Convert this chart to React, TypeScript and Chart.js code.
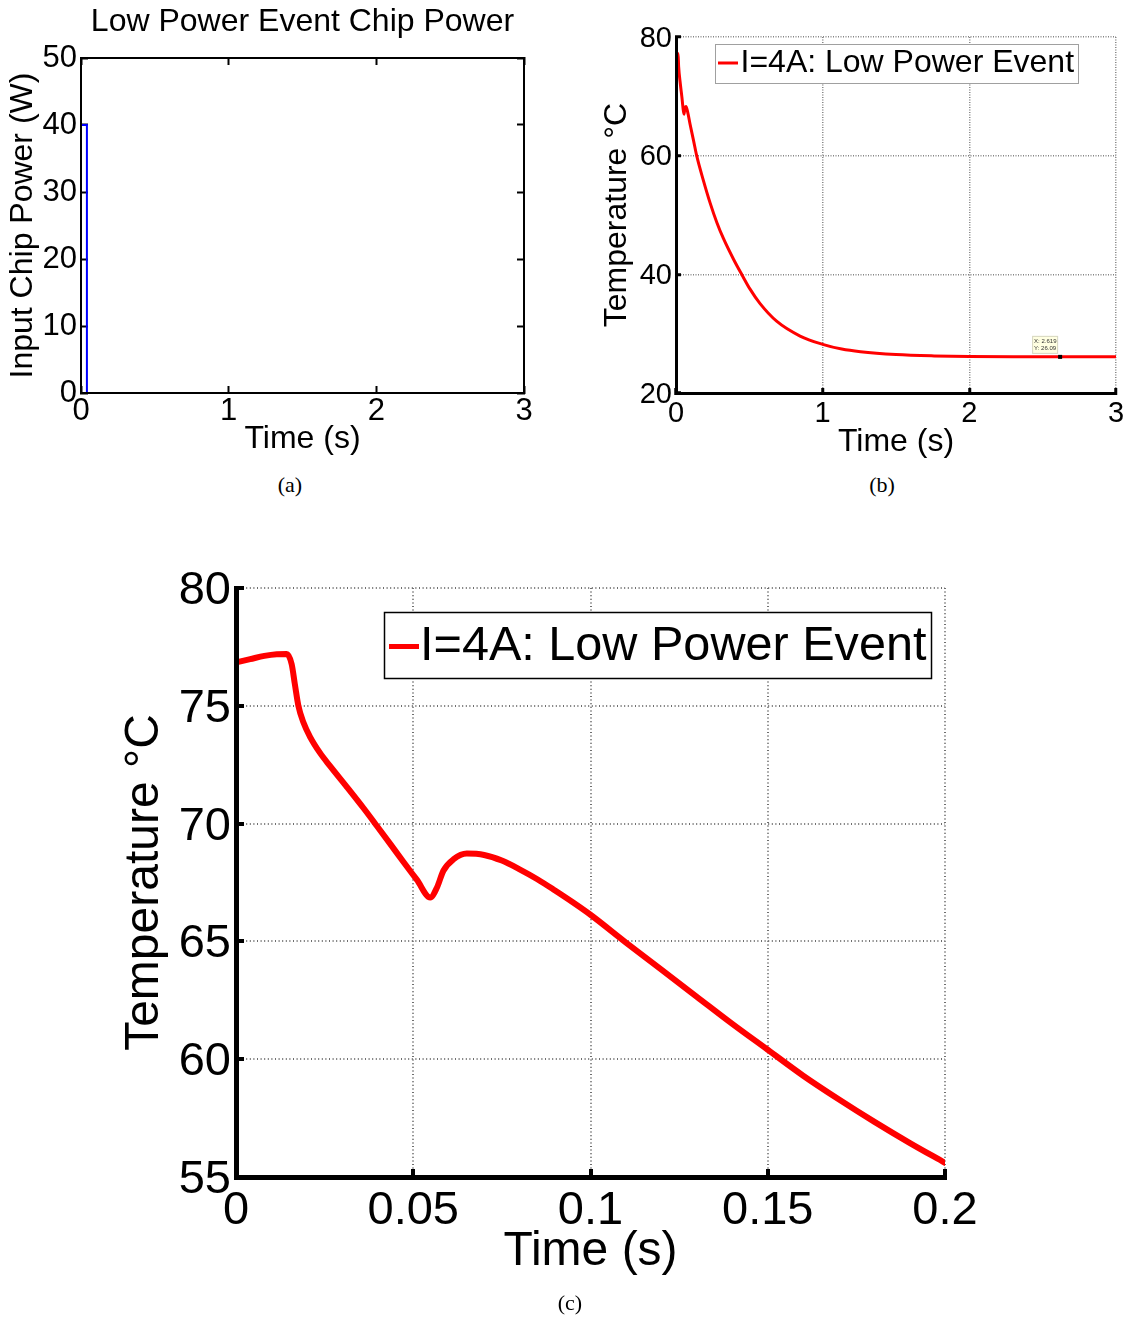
import React, { useEffect, useRef } from "react";
import { Chart, registerables } from "chart.js";

Chart.register(...registerables);

const FONT = '"Liberation Sans", Arial, Helvetica, sans-serif';
Chart.defaults.font.family = FONT;
Chart.defaults.color = "#000";

// ---------- (a) Low Power Event Chip Power ----------
const powerTime = [0, 0, 0.04, 0.04];
const powerWatts = [0, 40, 40, 0];
const aXTicks = [0, 1, 2, 3];
const aYTicks = [0, 10, 20, 30, 40, 50];

// ---------- (b) Temperature over 3 s ----------
const seriesLabel = "I=4A: Low Power Event";
const bTime = [
  0, 0.014, 0.018, 0.03, 0.04, 0.05, 0.055, 0.06, 0.068, 0.08, 0.096, 0.12,
  0.141, 0.187, 0.233, 0.279, 0.324, 0.393, 0.45, 0.505, 0.572, 0.686, 0.846,
  1.0, 1.13, 1.258, 1.5, 1.76, 2.0, 2.3, 2.619, 3.0,
];
const bTemp = [
  76.9, 77.2, 75.0, 72.0, 69.9, 67.6, 67.0, 68.0, 68.3, 67.3, 65.3, 62.5, 60.0,
  55.8, 52.0, 48.7, 46.0, 42.5, 39.9, 37.5, 35.1, 32.1, 29.6, 28.2, 27.4,
  26.95, 26.48, 26.25, 26.15, 26.1, 26.09, 26.09,
];
const bXTicks = [0, 1, 2, 3];
const bYTicks = [20, 40, 60, 80];
const dataTipX = 2.619;
const dataTipY = 26.09;

// ---------- (c) Temperature over first 0.2 s ----------
const cTime = [
  0, 0.004, 0.008, 0.0115, 0.0143, 0.0157, 0.0166, 0.0176, 0.019, 0.021,
  0.0237, 0.0265, 0.0313, 0.036, 0.0397, 0.0435, 0.0472, 0.051, 0.0548,
  0.0567, 0.0585, 0.0614, 0.0651, 0.07, 0.075, 0.08, 0.085, 0.09, 0.095, 0.1,
  0.11, 0.12, 0.13, 0.14, 0.15, 0.16, 0.17, 0.18, 0.19, 0.2,
];
const cTemp = [
  76.84, 76.98, 77.12, 77.19, 77.2, 76.77, 75.92, 75.0, 74.3, 73.65, 73.0,
  72.45, 71.55, 70.65, 69.91, 69.14, 68.38, 67.62, 66.86, 67.29, 68.0, 68.49,
  68.73, 68.67, 68.43, 68.06, 67.64, 67.16, 66.66, 66.13, 64.95, 63.8, 62.65,
  61.5, 60.4, 59.3, 58.3, 57.35, 56.45, 55.6,
];
const cXTicks = [0, 0.05, 0.1, 0.15, 0.2];
const cXTickLabels = ["0", "0.05", "0.1", "0.15", "0.2"];
const cYTicks = [55, 60, 65, 70, 75, 80];

const toPoints = (xs: number[], ys: number[]) =>
  xs.map((x, i) => ({ x, y: ys[i] }));

const setTicks = (vals: number[]) => (scale: any) => {
  scale.ticks = vals.map((v) => ({ value: v }));
};

// Legend drawn as a boxed legend inside the plot area (MATLAB style)
const boxLegendPlugin = {
  id: "boxLegend",
  afterDatasetsDraw(chart: any, _args: any, opts: any) {
    if (!opts || !opts.display) return;
    const ds = chart.data.datasets[0];
    const { ctx, chartArea } = chart;
    const x = chartArea.left + opts.dx;
    const y = chartArea.top + opts.dy;
    ctx.save();
    ctx.fillStyle = "#ffffff";
    ctx.fillRect(x, y, opts.w, opts.h);
    ctx.strokeStyle = opts.borderColor;
    ctx.lineWidth = opts.borderWidth;
    ctx.strokeRect(x + 0.5, y + 0.5, opts.w, opts.h);
    ctx.strokeStyle = ds.borderColor;
    ctx.lineWidth = opts.sampleWidth;
    ctx.beginPath();
    ctx.moveTo(x + opts.s0, y + opts.textY);
    ctx.lineTo(x + opts.s1, y + opts.textY);
    ctx.stroke();
    ctx.fillStyle = "#000";
    ctx.font = `${opts.fontSize}px ${FONT}`;
    ctx.textBaseline = "middle";
    ctx.textAlign = "left";
    ctx.fillText(ds.label, x + opts.textX, y + opts.textY);
    ctx.restore();
  },
};

// Small MATLAB data tip
const dataTipPlugin = {
  id: "dataTip",
  afterDraw(chart: any, _args: any, opts: any) {
    if (!opts || !opts.display) return;
    const { ctx } = chart;
    const px = chart.scales.x.getPixelForValue(opts.x);
    const py = chart.scales.y.getPixelForValue(opts.y);
    ctx.save();
    const bx = px - 28;
    const by = py - 21;
    ctx.fillStyle = "#ffffe1";
    ctx.fillRect(bx, by, 25, 17);
    ctx.strokeStyle = "#d6d6c0";
    ctx.lineWidth = 1;
    ctx.strokeRect(bx + 0.5, by + 0.5, 25, 17);
    ctx.fillStyle = "#333";
    ctx.font = `6px ${FONT}`;
    ctx.textBaseline = "middle";
    ctx.textAlign = "left";
    ctx.fillText("X: " + opts.x, bx + 2, by + 5);
    ctx.fillText("Y: " + opts.y, bx + 2, by + 12);
    ctx.fillStyle = "#000";
    ctx.fillRect(px - 2, py - 2, 4, 4);
    ctx.restore();
  },
};

const frameAxisA = (position: string, min: number, max: number, vals: number[]) => ({
  type: "linear",
  position,
  min,
  max,
  afterBuildTicks: setTicks(vals),
  afterFit: (s: any) => {
    if (position === "top") s.height = 0;
    else s.width = 0;
  },
  ticks: { display: false },
  grid: {
    drawOnChartArea: false,
    color: "#000",
    tickColor: "#000",
    tickWidth: 2,
    tickLength: -7,
  },
  border: { display: true, color: "#000", width: 2, z: 1 },
});

const configA: any = {
  type: "line",
  data: {
    datasets: [
      {
        label: "Input Chip Power",
        data: toPoints(powerTime, powerWatts),
        borderColor: "#0000ff",
        borderWidth: 2,
        pointRadius: 0,
        tension: 0,
        fill: false,
      },
    ],
  },
  options: {
    animation: false,
    responsive: false,
    events: [],
    layout: { padding: { left: 0, top: 0, right: 36, bottom: 0 } },
    plugins: {
      legend: { display: false },
      tooltip: { enabled: false },
      title: {
        display: true,
        text: "Low Power Event Chip Power",
        fullSize: false,
        color: "#000",
        font: { family: FONT, size: 32, weight: "normal" },
        padding: { top: 3, bottom: 16.6 },
      },
    },
    scales: {
      x: {
        type: "linear",
        position: "bottom",
        min: 0,
        max: 3,
        afterBuildTicks: setTicks(aXTicks),
        afterFit: (s: any) => {
          s.height = 77;
        },
        ticks: {
          font: { size: 31 },
          color: "#000",
          padding: 6.7,
          maxRotation: 0,
          autoSkip: false,
          callback: (v: any) => String(v),
        },
        grid: {
          drawOnChartArea: false,
          color: "#000",
          tickColor: "#000",
          tickWidth: 2,
          tickLength: -7,
        },
        border: { display: true, color: "#000", width: 2, z: 1 },
        title: {
          display: true,
          text: "Time (s)",
          color: "#000",
          font: { size: 32 },
          padding: { top: 0, bottom: 11.8 },
        },
      },
      x2: frameAxisA("top", 0, 3, aXTicks),
      y: {
        type: "linear",
        position: "left",
        min: 0,
        max: 50,
        afterBuildTicks: setTicks(aYTicks),
        afterFit: (s: any) => {
          s.width = 81;
        },
        ticks: {
          font: { size: 31 },
          color: "#000",
          padding: 11,
          callback: (v: any) => String(v),
        },
        grid: {
          drawOnChartArea: false,
          color: "#000",
          tickColor: "#000",
          tickWidth: 2,
          tickLength: -7,
        },
        border: { display: true, color: "#000", width: 2, z: 1 },
        title: {
          display: true,
          text: "Input Chip Power (W)",
          color: "#000",
          font: { size: 32 },
          padding: { top: 3.8, bottom: 0 },
        },
      },
      y2: frameAxisA("right", 0, 50, aYTicks),
    },
  },
};

const configB: any = {
  type: "line",
  data: {
    datasets: [
      {
        label: seriesLabel,
        data: toPoints(bTime, bTemp),
        borderColor: "#ff0000",
        borderWidth: 3,
        pointRadius: 0,
        cubicInterpolationMode: "monotone",
        fill: false,
      },
    ],
  },
  options: {
    animation: false,
    responsive: false,
    events: [],
    layout: { padding: { left: 0, top: 37, right: 20, bottom: 0 } },
    plugins: {
      legend: { display: false },
      tooltip: { enabled: false },
      boxLegend: {
        display: true,
        dx: 39,
        dy: 7,
        w: 363,
        h: 39,
        borderColor: "#a0a0a0",
        borderWidth: 1,
        s0: 3,
        s1: 23,
        sampleWidth: 3,
        textX: 25.5,
        textY: 19,
        fontSize: 32,
      },
      dataTip: { display: true, x: dataTipX, y: dataTipY },
    },
    scales: {
      x: {
        type: "linear",
        position: "bottom",
        min: 0,
        max: 3,
        afterBuildTicks: setTicks(bXTicks),
        afterFit: (s: any) => {
          s.height = 77;
        },
        ticks: {
          font: { size: 29 },
          color: "#000",
          padding: 8.5,
          maxRotation: 0,
          autoSkip: false,
          callback: (v: any) => String(v),
        },
        grid: {
          color: "#858585",
          lineWidth: 1.5,
          tickColor: "#000",
          tickWidth: 3,
          tickLength: -5,
        },
        border: { display: true, color: "#000", width: 3, dash: [1, 1.5], z: 1 },
        title: {
          display: true,
          text: "Time (s)",
          color: "#000",
          font: { size: 32 },
          padding: { top: 0, bottom: 9 },
        },
      },
      y: {
        type: "linear",
        position: "left",
        min: 20,
        max: 80,
        afterBuildTicks: setTicks(bYTicks),
        afterFit: (s: any) => {
          s.width = 116;
        },
        ticks: {
          font: { size: 29 },
          color: "#000",
          padding: 9,
          labelOffset: 1.5,
          callback: (v: any) => String(v),
        },
        grid: {
          color: "#858585",
          lineWidth: 1.5,
          tickColor: "#000",
          tickWidth: 3,
          tickLength: -5,
        },
        border: { display: true, color: "#000", width: 3, dash: [1, 1.5], z: 1 },
        title: {
          display: true,
          text: "Temperature °C",
          color: "#000",
          font: { size: 32 },
          padding: { top: 38, bottom: 0 },
        },
      },
    },
  },
  plugins: [boxLegendPlugin, dataTipPlugin],
};

const configC: any = {
  type: "line",
  data: {
    datasets: [
      {
        label: seriesLabel,
        data: toPoints(cTime, cTemp),
        borderColor: "#ff0000",
        borderWidth: 6,
        pointRadius: 0,
        cubicInterpolationMode: "monotone",
        borderJoinStyle: "round",
        borderCapStyle: "round",
        fill: false,
      },
    ],
  },
  options: {
    animation: false,
    responsive: false,
    events: [],
    layout: { padding: { left: 0, top: 48, right: 191, bottom: 0 } },
    plugins: {
      legend: { display: false },
      tooltip: { enabled: false },
      boxLegend: {
        display: true,
        dx: 148,
        dy: 24,
        w: 547,
        h: 66,
        borderColor: "#000",
        borderWidth: 1.5,
        s0: 5,
        s1: 35,
        sampleWidth: 5,
        textX: 36,
        textY: 34.5,
        fontSize: 48.6,
      },
    },
    scales: {
      x: {
        type: "linear",
        position: "bottom",
        min: 0,
        max: 0.2,
        afterBuildTicks: setTicks(cXTicks),
        afterFit: (s: any) => {
          s.height = 123;
        },
        ticks: {
          font: { size: 47 },
          color: "#000",
          padding: 14,
          maxRotation: 0,
          autoSkip: false,
          callback: (_v: any, i: number) => cXTickLabels[i],
        },
        grid: {
          color: "#6e6e6e",
          lineWidth: 2,
          tickColor: "#000",
          tickWidth: 4,
          tickLength: -8,
        },
        border: { display: true, color: "#000", width: 5, dash: [1, 2.6], z: 1 },
        title: {
          display: true,
          text: "Time (s)",
          color: "#000",
          font: { size: 48 },
          padding: { top: 0, bottom: 19 },
        },
      },
      y: {
        type: "linear",
        position: "left",
        min: 55,
        max: 80,
        afterBuildTicks: setTicks(cYTicks),
        afterFit: (s: any) => {
          s.width = 236;
        },
        ticks: {
          font: { size: 47 },
          color: "#000",
          padding: 13,
          labelOffset: 3,
          callback: (v: any) => String(v),
        },
        grid: {
          color: "#6e6e6e",
          lineWidth: 2,
          tickColor: "#000",
          tickWidth: 4,
          tickLength: -8,
        },
        border: { display: true, color: "#000", width: 5, dash: [1, 2.6], z: 1 },
        title: {
          display: true,
          text: "Temperature °C",
          color: "#000",
          font: { size: 48 },
          padding: { top: 116, bottom: 0 },
        },
      },
    },
  },
  plugins: [boxLegendPlugin],
};

function ChartCanvas(props: {
  config: any;
  left: number;
  top: number;
  width: number;
  height: number;
}) {
  const ref = useRef<HTMLCanvasElement>(null);
  useEffect(() => {
    if (!ref.current) return;
    const chart = new Chart(ref.current, props.config);
    return () => chart.destroy();
  }, []);
  return (
    <canvas
      ref={ref}
      width={props.width}
      height={props.height}
      style={{
        position: "absolute",
        left: props.left,
        top: props.top,
        width: props.width,
        height: props.height,
      }}
    />
  );
}

function Caption(props: { text: string; cx: number; cy: number }) {
  return (
    <div
      style={{
        position: "absolute",
        left: props.cx - 30,
        top: props.cy - 12,
        width: 60,
        textAlign: "center",
        fontFamily: '"Liberation Serif", "Times New Roman", serif',
        fontSize: 22,
        lineHeight: "24px",
        color: "#000",
      }}
    >
      {props.text}
    </div>
  );
}

export default function App() {
  return (
    <div
      style={{
        position: "absolute",
        left: 0,
        top: 0,
        width: 1136,
        height: 1318,
        background: "#fff",
        overflow: "hidden",
      }}
    >
      <ChartCanvas config={configA} left={0} top={0} width={560} height={470} />
      <ChartCanvas config={configB} left={560} top={0} width={576} height={470} />
      <ChartCanvas config={configC} left={0} top={540} width={1136} height={760} />
      <Caption text="(a)" cx={290} cy={485} />
      <Caption text="(b)" cx={882} cy={485} />
      <Caption text="(c)" cx={570} cy={1303} />
    </div>
  );
}
